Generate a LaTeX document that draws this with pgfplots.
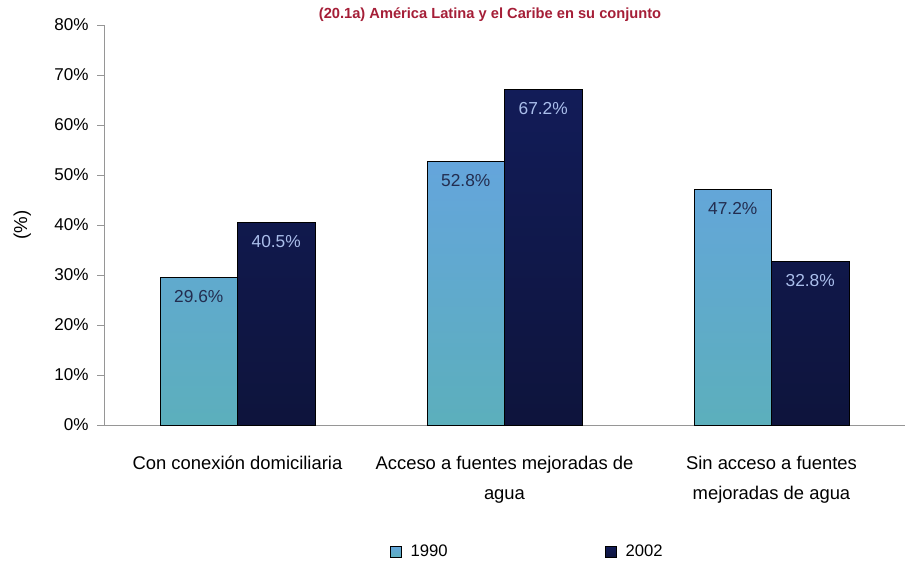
\documentclass[border=0pt]{standalone}
\usepackage{pgfplots}
\pgfplotsset{compat=1.18}
\usepackage{fontspec}
\setmainfont{Liberation Sans}

\definecolor{lightTop}{RGB}{100,165,220}
\definecolor{lightBot}{RGB}{92,175,188}
\definecolor{navyTop}{RGB}{18,28,88}
\definecolor{navyBot}{RGB}{14,20,60}
\definecolor{titlered}{RGB}{165,30,55}
\definecolor{lbldark}{RGB}{35,45,80}
\definecolor{lbllight}{RGB}{170,190,235}
\definecolor{axisgray}{RGB}{150,150,150}

\begin{document}
\begin{tikzpicture}
\begin{axis}[
    scale only axis,
    width=600.75pt, height=300pt,
    ymin=0, ymax=80,
    xmin=-0.5, xmax=2.5,
    ytick={0,10,...,80},
    yticklabel={\pgfmathprintnumber{\tick}\%},
    /pgf/number format/assume math mode=true,
    axis lines=left,
    axis line style={axisgray, -},
    tick style={axisgray},
    tick align=outside,
    major tick length=5pt,
    xtick={0,1,2},
    xticklabels={Con conexión domiciliaria, Acceso a fuentes mejoradas de\\agua, Sin acceso a fuentes\\mejoradas de agua},
    x tick style={draw=none},
    minor xtick={0.5,1.5},
    minor x tick style={axisgray},
    minor tick length=5pt,
    xticklabel style={align=center, font=\fontsize{13.8}{22.5}\selectfont, yshift=-15pt},
    yticklabel style={font=\fontsize{12.8}{14}\selectfont, xshift=-3pt},
    ylabel={(\%)},
    ylabel style={at={(axis description cs:-0.102,0.5)}, anchor=center, font=\fontsize{14}{16}\selectfont},
    title={\textbf{(20.1a) América Latina y el Caribe en su conjunto}},
    title style={at={(axis description cs:0.482,1)}, anchor=base, yshift=-1pt,
        font=\fontsize{11}{13}\selectfont, text=titlered},
    ybar=0pt,
    bar width=0.29,
    legend columns=2,
    legend style={draw=none, fill=none, at={(0.529,-0.3175)}, anchor=center,
        font=\fontsize{12.5}{14}\selectfont,
        /tikz/every even column/.append style={column sep=116pt}},
    legend image code/.code={\draw[#1] (0pt,-4pt) rectangle (8.5pt,4.5pt); \path (13pt,0pt);},
    nodes near coords={\pgfmathprintnumber[fixed,precision=1,fixed zerofill]{\pgfplotspointmeta}\%},
    every node near coord/.append style={anchor=north, yshift=-9.5pt, inner sep=0pt,
        font=\fontsize{13}{14}\selectfont},
    clip=false,
]
\addplot[draw=black, top color=lightTop, bottom color=lightBot,
    every node near coord/.append style={text=lbldark}]
coordinates {(0,29.6) (1,52.8) (2,47.2)};
\addplot[draw=black, top color=navyTop, bottom color=navyBot,
    every node near coord/.append style={text=lbllight}]
coordinates {(0,40.5) (1,67.2) (2,32.8)};
\legend{1990, 2002}
\coordinate (bl) at (rel axis cs:-0.1298,-0.3575);
\coordinate (tr) at (rel axis cs:1.00375,1.0625);
\end{axis}
\pgfresetboundingbox
\path[use as bounding box] (bl) rectangle (tr);
\end{tikzpicture}
\end{document}
